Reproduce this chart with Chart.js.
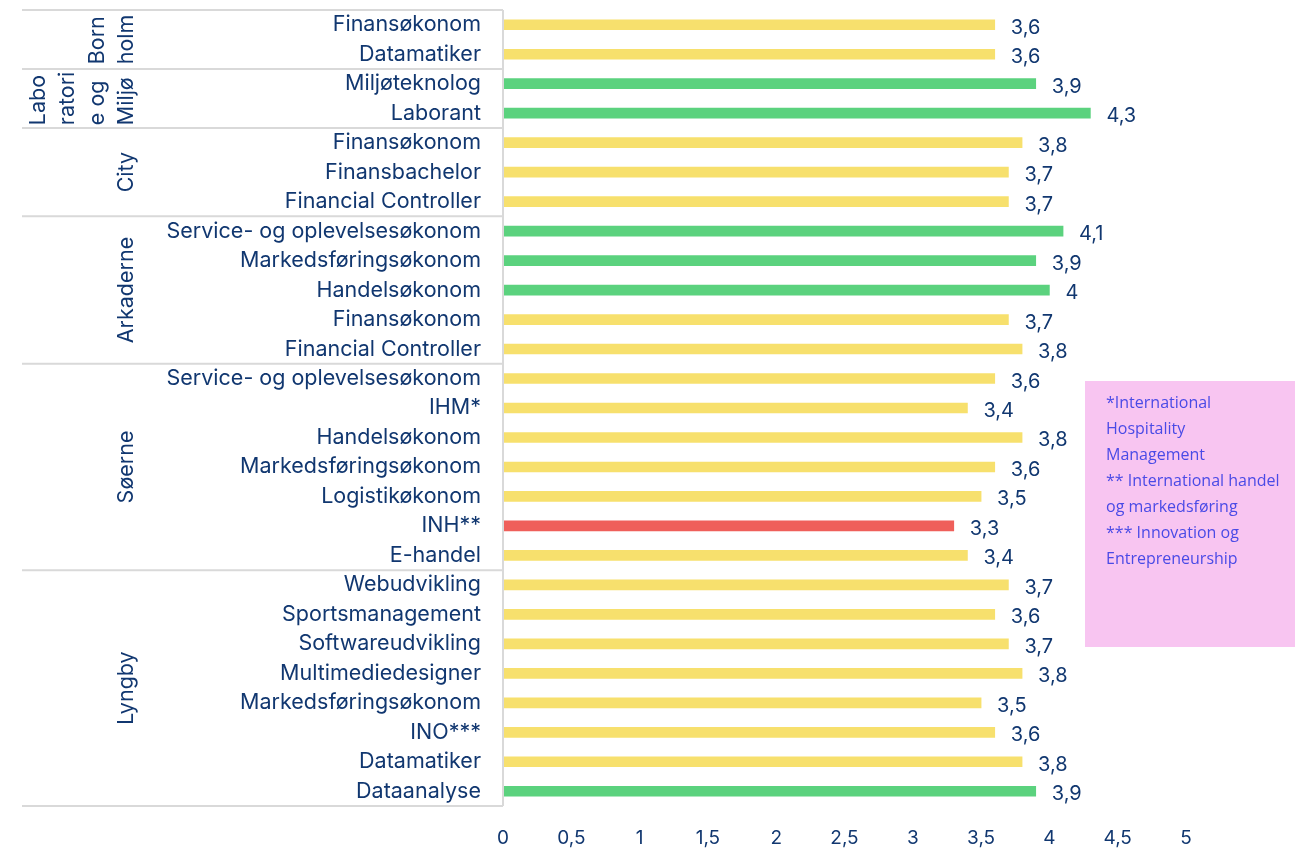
<!DOCTYPE html>
<html>
<head>
<meta charset="utf-8">
<script src="https://cdn.jsdelivr.net/npm/chart.js@4.4.1/dist/chart.umd.min.js"></script>
<style>
html,body{margin:0;padding:0;background:#fff;}
canvas{display:block;}
</style>
</head>
<body>
<canvas id="c" width="1295" height="861"></canvas>
<script>
const categories = [
  "Finansøkonom","Datamatiker",
  "Miljøteknolog","Laborant",
  "Finansøkonom","Finansbachelor","Financial Controller",
  "Service- og oplevelsesøkonom","Markedsføringsøkonom","Handelsøkonom","Finansøkonom","Financial Controller",
  "Service- og oplevelsesøkonom","IHM*","Handelsøkonom","Markedsføringsøkonom","Logistikøkonom","INH**","E-handel",
  "Webudvikling","Sportsmanagement","Softwareudvikling","Multimediedesigner","Markedsføringsøkonom","INO***","Datamatiker","Dataanalyse"
];
const values = [
  3.6,3.6,
  3.9,4.3,
  3.8,3.7,3.7,
  4.1,3.9,4.0,3.7,3.8,
  3.6,3.4,3.8,3.6,3.5,3.3,3.4,
  3.7,3.6,3.7,3.8,3.5,3.6,3.8,3.9
];
const groupLabels = [["Born","holm"],["Labo","ratori","e og","Miljø"],["City"],["Arkaderne"],["Søerne"],["Lyngby"]];
const groupSizes = [2,2,3,5,7,8];
const xTicks = [0,0.5,1,1.5,2,2.5,3,3.5,4,4.5,5];
const noteLines = ["*International","Hospitality","Management","** International handel","og markedsføring","*** Innovation og","Entrepreneurship"];

const NAVY = "#113770";
const YELLOW = "#f7e06d", GREEN = "#5bd27e", RED = "#ef5f5a";
function barColor(v){ return v >= 3.9 ? GREEN : (v < 3.4 ? RED : YELLOW); }

const fmt = v => String(v).replace('.', ',');
const FONT = "Inter";

const overlay = {
  id: 'overlay',
  afterDraw(chart){
    const ctx = chart.ctx;
    const y = chart.scales.y, area = chart.chartArea;
    const half = (y.getPixelForValue(1) - y.getPixelForValue(0)) / 2;
    ctx.save();
    ctx.strokeStyle = "#d9d9d9";
    ctx.lineWidth = 2;
    let idx = 0;
    const bounds = [y.getPixelForValue(0) - half];
    groupSizes.forEach(s => { idx += s; bounds.push(y.getPixelForValue(idx - 1) + half); });
    bounds.forEach(b => {
      ctx.beginPath(); ctx.moveTo(22, b); ctx.lineTo(area.left, b); ctx.stroke();
    });
    ctx.beginPath(); ctx.moveTo(area.left, bounds[0]); ctx.lineTo(area.left, bounds[bounds.length-1]); ctx.stroke();
    ctx.fillStyle = NAVY;
    ctx.font = "21.5px " + FONT;
    ctx.textBaseline = "middle";
    const lineGap = 29.5;
    groupLabels.forEach((lines, g) => {
      const cy = (bounds[g] + bounds[g+1]) / 2;
      const maxW = Math.max(...lines.map(l => ctx.measureText(l).width));
      const lastX = 127;
      lines.forEach((l, i) => {
        const x = lastX - (lines.length - 1 - i) * lineGap;
        ctx.save();
        ctx.translate(x, cy + maxW/2);
        ctx.rotate(-Math.PI/2);
        ctx.textAlign = "left";
        ctx.fillText(l, 0, 0);
        ctx.restore();
      });
    });
    ctx.font = "20px " + FONT;
    ctx.textAlign = "left";
    ctx.textBaseline = "middle";
    ctx.fillStyle = NAVY;
    chart.getDatasetMeta(0).data.forEach((bar, i) => {
      ctx.fillText(fmt(values[i]), bar.x + 16, bar.y + 3);
    });
    ctx.fillStyle = "#f8c5f1";
    ctx.fillRect(1085, 381, 210, 266);
    ctx.fillStyle = "#4a4ae6";
    ctx.font = "16px 'Open Sans'";
    ctx.textBaseline = "middle";
    noteLines.forEach((l, i) => ctx.fillText(l, 1106, 403 + i * 26.1));
    ctx.restore();
  }
};

new Chart(document.getElementById('c'), {
  type: 'bar',
  data: {
    labels: categories,
    datasets: [{
      data: values,
      backgroundColor: values.map(barColor),
      barThickness: 10
    }]
  },
  options: {
    indexAxis: 'y',
    responsive: false,
    animation: false,
    layout: { padding: { top: 10, right: 109, left: 0, bottom: 0 } },
    plugins: { legend: { display: false }, tooltip: { enabled: false } },
    scales: {
      x: {
        min: 0, max: 5,
        afterBuildTicks: s => { s.ticks = xTicks.map(v => ({ value: v })); },
        afterFit: s => { s.height = 55; s.paddingLeft = 0; s.paddingRight = 0; },
        grid: { display: false, drawTicks: false },
        border: { display: false },
        ticks: {
          padding: 21,
          color: NAVY,
          font: { family: FONT, size: 19 },
          callback: v => fmt(v)
        }
      },
      y: {
        afterFit: s => { s.width = 503; s.paddingTop = 0; s.paddingBottom = 0; },
        grid: { display: false, drawTicks: false },
        border: { display: false },
        ticks: {
          padding: 22,
          color: NAVY,
          autoSkip: false,
          font: { family: FONT, size: 21.5 }
        }
      }
    }
  },
  plugins: [overlay]
});
</script>
</body>
</html>
